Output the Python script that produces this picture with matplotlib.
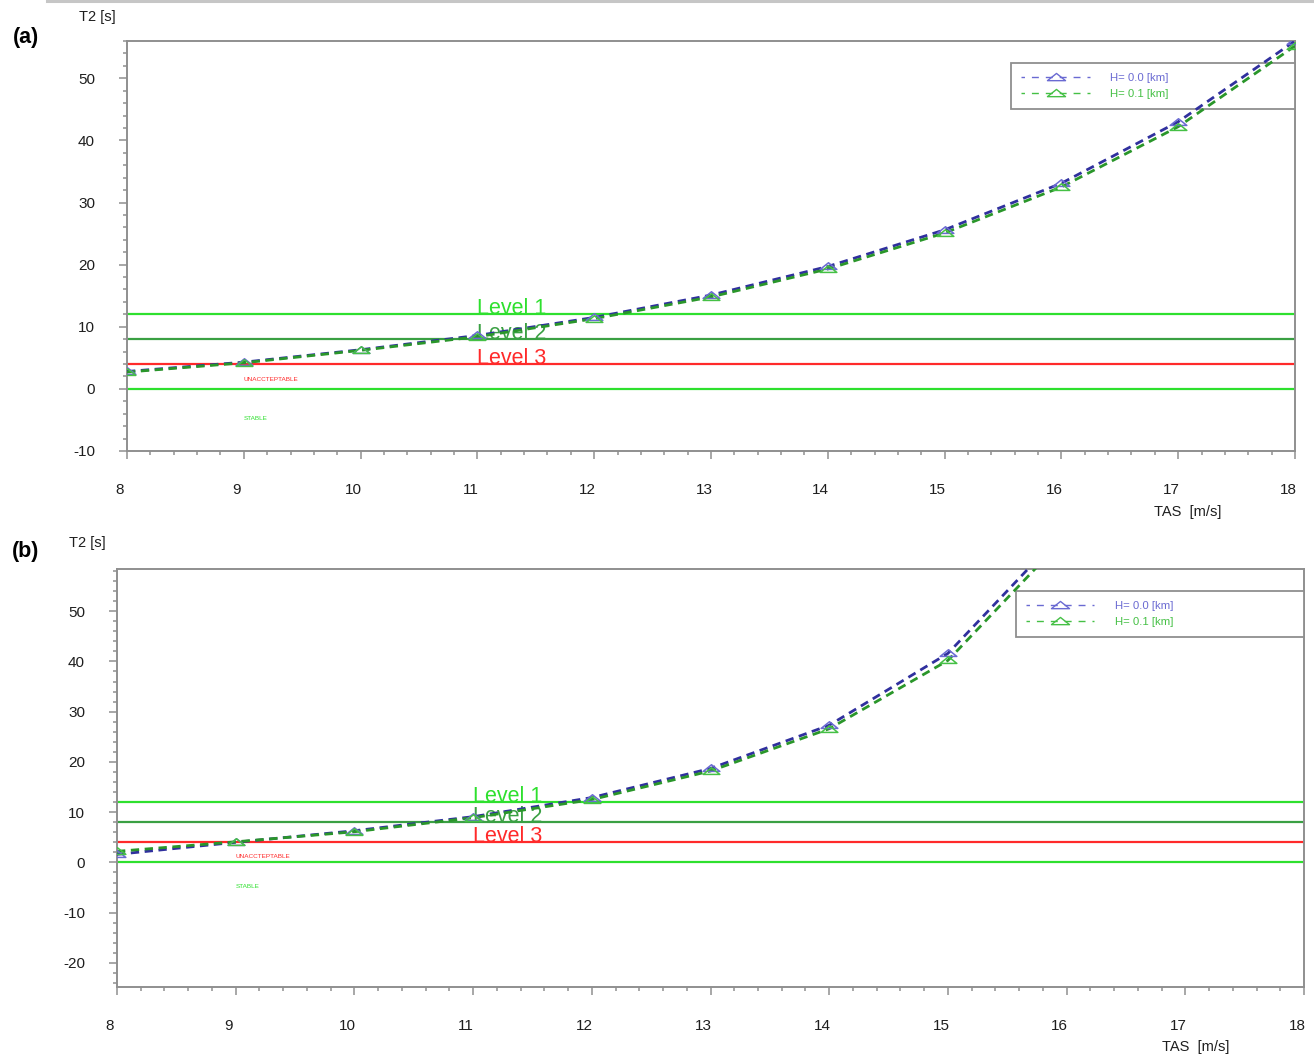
import matplotlib
matplotlib.use("Agg")
import matplotlib.pyplot as plt
import numpy as np
from matplotlib.path import Path
from matplotlib.ticker import MultipleLocator
from matplotlib.transforms import ScaledTranslation
from matplotlib.lines import Line2D

plt.rcParams['font.family'] = ['Liberation Sans', 'DejaVu Sans']
plt.rcParams['axes.unicode_minus'] = False

# ---- data ----
tas_a = [8, 9, 10, 11, 12, 13, 14, 15, 16, 17, 18]
t2_a_h00 = [2.8, 4.3, 6.3, 8.6, 11.5, 15.1, 19.7, 25.6, 33.1, 43.0, 56.0]
t2_a_h01 = [2.7, 4.2, 6.2, 8.4, 11.3, 14.8, 19.3, 25.1, 32.5, 42.2, 55.2]

tas_b = [8, 9, 10, 11, 12, 13, 14, 15, 16]
t2_b_h00 = [1.6, 4.0, 6.3, 9.1, 12.9, 18.7, 27.3, 41.6, 66.5]
t2_b_h01 = [2.2, 4.1, 6.1, 8.9, 12.5, 18.2, 26.6, 40.2, 65.0]

levels = [12, 8, 4]
level_names = ['Level 1', 'Level 2', 'Level 3']
legend_labels = ['H= 0.0 [km]', 'H= 0.1 [km]']

# ---- styling ----
BLUE = '#30309e'
BLUE_M = '#6a6ad2'
GREEN = '#2a962a'
GREEN_M = '#45c045'
LIME = '#2ee02e'
MID_GREEN = '#3aa043'
RED = '#ff2a2a'
SPINE = '#8f8f8f'
TXT = '#1e1e1e'

tri = Path([(-1.0, -0.35), (1.0, -0.35), (0.0, 0.45), (-1.0, -0.35)],
           [Path.MOVETO, Path.LINETO, Path.LINETO, Path.CLOSEPOLY])

fig = plt.figure(figsize=(13.14, 10.59), dpi=100)

# thin rule along the top edge
fig.add_artist(Line2D([47 / 1314, 1.0], [1 - 1 / 1059, 1 - 1 / 1059],
                      color='#c6c6c6', lw=2.2, transform=fig.transFigure))


def panel(rect, tas, h00, h01, ylim, ymajor, unacc_y, stable_y, leg_box):
    ax = fig.add_axes(rect)
    ax.set_xlim(8, 18)
    ax.set_ylim(*ylim)
    for s in ax.spines.values():
        s.set_color(SPINE)
        s.set_linewidth(1.4)
    ax.xaxis.set_major_locator(MultipleLocator(1))
    ax.xaxis.set_minor_locator(MultipleLocator(0.2))
    ax.yaxis.set_major_locator(MultipleLocator(10))
    ax.yaxis.set_minor_locator(MultipleLocator(2))
    ax.tick_params(which='both', direction='out', color=SPINE, width=1.1,
                   top=False, right=False)
    ax.tick_params(which='major', length=6, pad=17, labelsize=11,
                   labelcolor=TXT)
    ax.tick_params(which='minor', length=3)
    ax.set_yticks(ymajor)
    off = ScaledTranslation(-7 / 100, 0, fig.dpi_scale_trans)
    for lab in ax.get_xticklabels():
        lab.set_transform(lab.get_transform() + off)

    # reference levels
    ax.axhline(levels[0], color=LIME, lw=1.6, zorder=2)
    ax.axhline(levels[1], color=MID_GREEN, lw=1.6, zorder=2)
    ax.axhline(levels[2], color=RED, lw=1.6, zorder=2)
    ax.axhline(0, color=LIME, lw=1.6, zorder=2)
    for lv, name, col in zip(levels, level_names, [LIME, MID_GREEN, RED]):
        ax.text(11.0, lv, name, color=col, fontsize=15.5, ha='left',
                va='baseline', zorder=3)
    ax.text(9.0, unacc_y, 'UNACCTEPTABLE', color=RED, fontsize=4.6,
            ha='left', va='center')
    ax.text(9.0, stable_y, 'STABLE', color=LIME, fontsize=4.6,
            ha='left', va='center')

    # curves
    ax.plot(tas, h00, color=BLUE, lw=2.0, dashes=(3, 2), zorder=4)
    ax.plot(tas, h01, color=GREEN, lw=2.0, dashes=(3, 2), zorder=5)
    ax.plot(tas, h00, ls='none', marker=tri, ms=12, mfc='none',
            mec=BLUE_M, mew=1.1, zorder=6)
    ax.plot(tas, h01, ls='none', marker=tri, ms=12, mfc='none',
            mec=GREEN_M, mew=1.1, zorder=6)

    h1 = Line2D([], [], color=BLUE_M, lw=1.0, ls=(2.5, (5, 5)), marker=tri,
                ms=13, mfc='none', mec=BLUE_M)
    h2 = Line2D([], [], color=GREEN_M, lw=1.0, ls=(2.5, (5, 5)), marker=tri,
                ms=13, mfc='none', mec=GREEN_M)
    leg = ax.legend([h1, h2], legend_labels, loc='upper left',
                    bbox_to_anchor=leg_box, mode='expand', fontsize=8.2,
                    handlelength=6.0, handletextpad=1.8, borderpad=0.9,
                    labelspacing=0.45, fancybox=False, framealpha=1,
                    edgecolor=SPINE, borderaxespad=0, markerscale=1)
    leg.get_frame().set_linewidth(1.3)
    leg.set_zorder(3)
    for t, c in zip(leg.get_texts(), [BLUE_M, GREEN_M]):
        t.set_color(c)
    return ax


# panel (a)
panel([127 / 1314, 1 - 451 / 1059, 1168 / 1314, 410 / 1059],
      tas_a, t2_a_h00, t2_a_h01, (-10, 56), [-10, 0, 10, 20, 30, 40, 50],
      1.45, -4.7, (0.757, 0.837, 0.243, 0.109))

# panel (b)
panel([117 / 1314, 1 - 987 / 1059, 1187 / 1314, 418 / 1059],
      tas_b, t2_b_h00, t2_b_h01, (-24.8, 58.4),
      [-20, -10, 0, 10, 20, 30, 40, 50],
      1.2, -4.8, (0.757, 0.84, 0.243, 0.107))

# axis titles and panel tags
fig.text(97 / 1314, 1 - 17 / 1059, 'T2 [s]', fontsize=10.5, color=TXT,
         ha='center', va='center')
fig.text(1188 / 1314, 1 - 512 / 1059, 'TAS  [m/s]', fontsize=10.5,
         color=TXT, ha='center', va='center')
fig.text(87 / 1314, 1 - 543 / 1059, 'T2 [s]', fontsize=10.5, color=TXT,
         ha='center', va='center')
fig.text(1196 / 1314, 1 - 1047 / 1059, 'TAS  [m/s]', fontsize=10.5,
         color=TXT, ha='center', va='center')
fig.text(26 / 1314, 1 - 38 / 1059, '(a)', fontsize=15.5, fontweight='bold',
         ha='center', va='center')
fig.text(26 / 1314, 1 - 551 / 1059, '(b)', fontsize=15.5, fontweight='bold',
         ha='center', va='center')

fig.savefig('out.png', dpi=100, facecolor='white')
